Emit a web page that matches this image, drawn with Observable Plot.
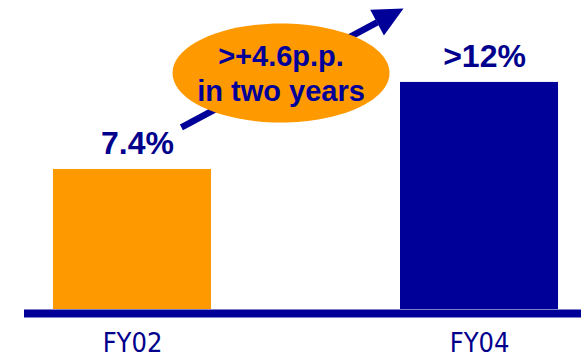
<!DOCTYPE html>
<html>
<head>
<meta charset="utf-8">
<script src="https://cdn.jsdelivr.net/npm/d3@7"></script>
<script src="https://cdn.jsdelivr.net/npm/@observablehq/plot@0.6"></script>
<style>
  html, body { margin: 0; padding: 0; background: #fff; }
  #chart { width: 581px; height: 358px; }
</style>
</head>
<body>
<div id="chart"></div>
<script>
// ---- Data ----
const categories = ["FY02", "FY04"];
const values = [7.4, 12];
const valueLabels = ["7.4%", ">12%"];
const annotationText = ">+4.6p.p.\nin two years";

// ---- Styling ----
const ORANGE = "#FF9900";
const NAVY = "#000099";
const TEXT = "#00008C";
const barColors = [ORANGE, NAVY];
const FONT = "'Liberation Sans', Arial, Helvetica, sans-serif";
const NARROW = "'Liberation Sans Narrow', 'Arial Narrow', 'DejaVu Sans Condensed', sans-serif";

const data = categories.map((c, i) => ({i, category: c, value: values[i], label: valueLabels[i], color: barColors[i]}));

const halfWidth = 0.2277; // half bar width in category units

// Annotation geometry in data space (x: category index, y: percent)
const arrowTail = {x: 0.141, y: 9.62};
const arrowBase = {x: 0.705, y: 15.17};
const arrowTip = {x: 0.781, y: 15.91};
const bubble = {x: 0.428, y: 12.5};

const ellipseSymbol = {
  draw(ctx) {
    const rx = 108.5, ry = 49.5, k = 0.5523;
    ctx.moveTo(rx, 0);
    ctx.bezierCurveTo(rx, ry * k, rx * k, ry, 0, ry);
    ctx.bezierCurveTo(-rx * k, ry, -rx, ry * k, -rx, 0);
    ctx.bezierCurveTo(-rx, -ry * k, -rx * k, -ry, 0, -ry);
    ctx.bezierCurveTo(rx * k, -ry, rx, -ry * k, rx, 0);
    ctx.closePath();
  }
};
const headSymbol = {
  draw(ctx) {
    const L = 30, W = 29;
    ctx.moveTo(0, 0);
    ctx.lineTo(-L, -W / 2);
    ctx.lineTo(-L, W / 2);
    ctx.closePath();
  }
};

const chart = Plot.plot({
  width: 581,
  height: 358,
  marginLeft: 24,
  marginRight: 0,
  marginTop: 0,
  marginBottom: 49,
  style: {fontFamily: FONT, background: "#fff", overflow: "visible"},
  x: {type: "linear", domain: [-0.3112, 1.2939], axis: null},
  y: {domain: [0, 16.33], axis: null},
  marks: [
    Plot.rectY(data, {x1: d => d.i - halfWidth, x2: d => d.i + halfWidth, y: "value", fill: "color"}),
    Plot.ruleY([0], {stroke: NAVY, strokeWidth: 8, dy: 4}),
    Plot.axisX({ticks: [0, 1], tickFormat: i => categories[i], tickSize: 0, tickPadding: 23,
      label: null, fontSize: 27, fontFamily: NARROW, color: TEXT}),
    Plot.text(data, {x: "i", y: "value", text: "label", dy: -15, dx: 5, lineAnchor: "bottom",
      fontSize: 32, fontWeight: "bold", fill: TEXT}),
    // growth arrow
    Plot.link([0], {x1: () => arrowTail.x, y1: () => arrowTail.y, x2: () => arrowBase.x, y2: () => arrowBase.y,
      stroke: NAVY, strokeWidth: 6.5}),
    Plot.dot([0], {x: () => arrowTip.x, y: () => arrowTip.y, symbol: headSymbol, r: 10, fill: NAVY, stroke: "none", rotate: -28.2}),
    // bubble
    Plot.dot([0], {x: () => bubble.x, y: () => bubble.y, symbol: ellipseSymbol, r: 10, fill: ORANGE, stroke: "none"}),
    Plot.text([annotationText], {x: () => bubble.x, y: () => bubble.y, text: d => d, dy: -1, lineHeight: 1.2,
      fontSize: 29, fontWeight: "bold", fill: NAVY})
  ]
});
document.getElementById("chart").appendChild(chart);
</script>
</body>
</html>
